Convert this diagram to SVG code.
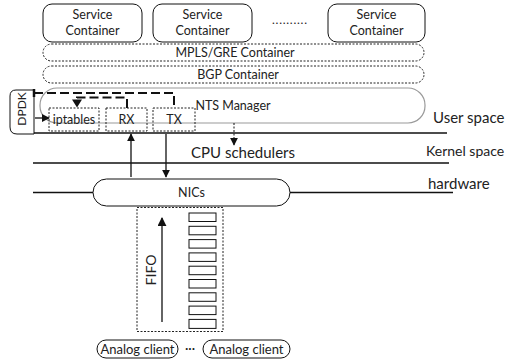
<svg xmlns="http://www.w3.org/2000/svg" width="506" height="361" viewBox="0 0 506 361">
<defs>
<style>
text{font-family:Lato,"Liberation Sans",sans-serif;fill:#222;}
.t{font-size:12.5px;text-anchor:middle;}
.big{font-size:15px;}
.solid{fill:#fff;stroke:#111;stroke-width:1;}
.dash{fill:none;stroke:#222;stroke-width:1;stroke-dasharray:2 1.5;}
.line{stroke:#111;stroke-width:1.3;fill:none;}
.arr{stroke:#111;stroke-width:1.3;fill:none;marker-end:url(#ah);}
.loop{stroke:#111;stroke-width:2;fill:none;stroke-dasharray:9 4;}
</style>
<marker id="ah" viewBox="0 0 10 10" refX="9" refY="5" markerWidth="8" markerHeight="8" markerUnits="userSpaceOnUse" orient="auto">
<path d="M0,0 L10,5 L0,10 z" fill="#111"/>
</marker>
<marker id="ahb" viewBox="0 0 10 10" refX="9" refY="5" markerWidth="9" markerHeight="9" markerUnits="userSpaceOnUse" orient="auto">
<path d="M0,0 L10,5 L0,10 z" fill="#111"/>
</marker>
</defs>

<g id="service1"><rect class="solid" x="43" y="4" width="99" height="38" rx="9"/><text class="t" x="92.5" y="19">Service</text><text class="t" x="92.5" y="35">Container</text></g>
<g id="service2"><rect class="solid" x="153" y="4" width="99" height="38" rx="9"/><text class="t" x="202.5" y="19">Service</text><text class="t" x="202.5" y="35">Container</text></g>
<g id="dots"><text x="272" y="24" font-size="12" textLength="35" lengthAdjust="spacing">..........</text></g>
<g id="service3"><rect class="solid" x="328" y="4" width="97" height="38" rx="9"/><text class="t" x="376.5" y="19">Service</text><text class="t" x="376.5" y="35">Container</text></g>

<g id="mpls"><rect class="dash" x="43" y="44" width="381" height="17" rx="8.5"/><text class="t" x="235" y="57">MPLS/GRE Container</text></g>
<g id="bgp"><rect class="dash" x="43" y="66" width="381" height="17" rx="8.5"/><text class="t" x="238" y="79">BGP Container</text></g>

<g id="nts"><rect x="40" y="88" width="385" height="35" rx="17" fill="#fff" stroke="#9a9a9a" stroke-width="1.2"/><text class="t" x="233" y="110">NTS Manager</text></g>

<g id="dpdk"><path d="M10,96 Q10,90 16,90 L34,90 L34,134 L17,134 Q10,134 10,127 Z" class="solid"/><text class="t" transform="translate(26,109) rotate(-90)" x="0" y="0" style="font-size:12px">DPDK</text></g>

<g id="iptables"><rect class="dash" x="49" y="108" width="50" height="23" fill="#fff"/><text class="t" x="74" y="124">iptables</text></g>
<g id="rx"><rect class="dash" x="106" y="108" width="41" height="23"/><text class="t" x="126.5" y="124">RX</text></g>
<g id="tx"><rect class="dash" x="153" y="108" width="42" height="23"/><text class="t" x="174" y="124">TX</text></g>

<g id="nics"><rect class="solid" x="93" y="179" width="197" height="27" rx="13.5"/><text class="t" x="191.5" y="197">NICs</text></g>

<g id="fifo">
<rect class="dash" x="137" y="207.5" width="86" height="124"/>
<g class="solid">
<rect x="189" y="213" width="27" height="8.5"/>
<rect x="189" y="226.3" width="27" height="8.5"/>
<rect x="189" y="239.6" width="27" height="8.5"/>
<rect x="189" y="252.9" width="27" height="8.5"/>
<rect x="189" y="266.2" width="27" height="8.5"/>
<rect x="189" y="279.5" width="27" height="8.5"/>
<rect x="189" y="292.8" width="27" height="8.5"/>
<rect x="189" y="306.1" width="27" height="8.5"/>
<rect x="189" y="319.4" width="27" height="9"/>
</g>
<text class="t" transform="translate(156,270) rotate(-90)" x="0" y="0" style="font-size:14px">FIFO</text>
</g>

<g id="client1"><rect class="solid" x="97" y="340" width="81" height="18" rx="9"/><text class="t" x="137.5" y="354" style="font-size:13px">Analog client</text></g>
<g id="ellipsis"><text x="190" y="353" class="t" style="font-size:13px">···</text></g>
<g id="client2"><rect class="solid" x="203" y="340" width="87" height="18" rx="9"/><text class="t" x="246.5" y="354" style="font-size:13px">Analog client</text></g>

<g id="layers">
<line class="line" x1="34" y1="133" x2="447" y2="133"/>
<line class="line" x1="33" y1="163" x2="449" y2="163"/>
<line class="line" x1="33" y1="192.5" x2="93" y2="192.5"/>
<line class="line" x1="290" y1="192.5" x2="453" y2="192.5"/>
<text class="big" x="433" y="123">User space</text>
<text class="big" x="426" y="156" style="font-size:14px">Kernel space</text>
<text class="big" x="428" y="189">hardware</text>
<text class="big" x="243" y="158" text-anchor="middle">CPU schedulers</text>
</g>

<g id="connectors">
<path class="loop" d="M34,93 L174,93 L174,108"/>
<path class="loop" d="M127,108 L127,97.5 L77,97.5 L77,100"/>
<path d="M72,99.5 L82,99.5 L77,107.5 Z" fill="#111"/>
<path d="M34,89 L34,97" stroke="#111" stroke-width="2.5"/>
<line class="arr" x1="35" y1="118" x2="49" y2="118"/>
<line class="arr" x1="131" y1="177" x2="131" y2="134"/>
<line class="arr" x1="166" y1="134" x2="166" y2="177"/>
<line x1="234" y1="123" x2="234" y2="145" stroke="#111" stroke-width="1" stroke-dasharray="2 1.5" marker-end="url(#ah)"/>
<line class="arr" x1="162" y1="322" x2="162" y2="218" style="marker-end:url(#ahb)"/>
</g>
</svg>
